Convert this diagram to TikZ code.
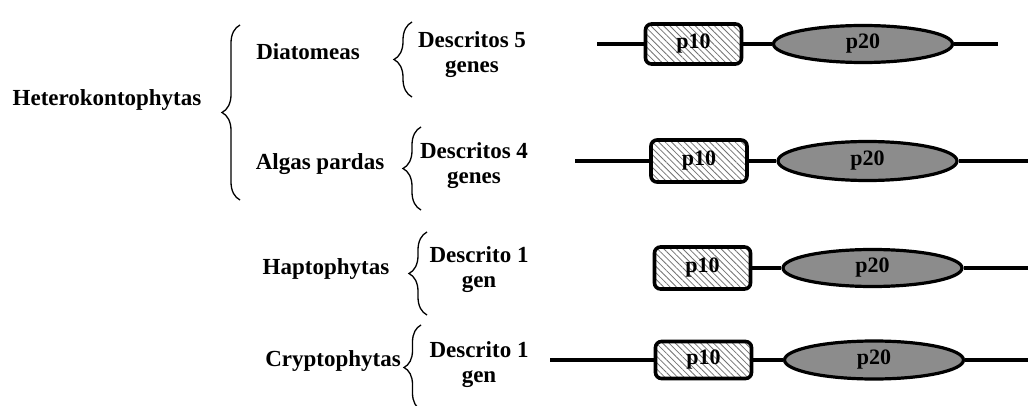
\documentclass[tikz,border=0pt]{standalone}
\usepackage{fontspec}
\setmainfont{Liberation Serif}
\usetikzlibrary{patterns.meta,decorations.pathreplacing,shapes.geometric}
\begin{document}
\begin{tikzpicture}[x=1pt,y=-1pt,
  lbl/.style={font=\fontsize{23}{25}\selectfont\bfseries, inner sep=0pt, align=center},
  genebox/.style={draw, line width=3.6pt, rounded corners=6pt, minimum width=96pt, minimum height=40pt, inner sep=0pt,
     preaction={fill=white}, pattern={Lines[angle=-45,distance=4.5pt,line width=0.8pt]}, pattern color=black!55,
     font=\fontsize{22}{23}\selectfont\bfseries},
  geneell/.style={draw, ellipse, line width=3.2pt, minimum width=179pt, minimum height=38pt, inner sep=0pt,
     fill={rgb,255:red,140;green,140;blue,140}, font=\fontsize{22}{23}\selectfont\bfseries},
  link/.style={line width=3.2pt},
  bracel/.style={decorate, decoration={brace, amplitude=#1}, line width=1.3pt},
  bracel/.default=17pt]
\useasboundingbox (0,0) rectangle (1028,406);
% labels
\node[lbl] (het) at (107,100) {Heterokontophytas};
\node[lbl] (dia) at (308,52) {Diatomeas};
\node[lbl] (alg) at (320,164) {Algas pardas};
\node[lbl] (hap) at (326,269) {Haptophytas};
\node[lbl] (cry) at (333,361) {Cryptophytas};
\node[lbl] (d5) at (472,55) {Descritos 5\\genes};
\node[lbl] (d4) at (474,166) {Descritos 4\\genes};
\node[lbl] (d1a) at (479,270) {Descrito 1\\gen};
\node[lbl] (d1b) at (479,365) {Descrito 1\\gen};
% braces
\coordinate (b0a) at (240,200); \coordinate (b0b) at (240,25);
\draw[bracel=18pt] (b0a) -- (b0b);
\coordinate (b1a) at (412,97); \coordinate (b1b) at (412,22);
\draw[bracel=18pt] (b1a) -- (b1b);
\coordinate (b2a) at (421,210); \coordinate (b2b) at (421,127);
\draw[bracel=18pt] (b2a) -- (b2b);
\coordinate (b3a) at (427,315); \coordinate (b3b) at (427,232);
\draw[bracel=18pt] (b3a) -- (b3b);
\coordinate (b4a) at (421,410); \coordinate (b4b) at (421,325);
\draw[bracel=17pt] (b4a) -- (b4b);
% row 1
\coordinate (l1) at (597,44);
\node[genebox, minimum height=40pt] (p10a) at (693.5,44) {p10};
\node[geneell, minimum height=37pt] (p20a) at (863,44) {p20};
\coordinate (r1) at (998,44);
\draw[link] (l1) -- (p10a); \draw[link] (p10a) -- (p20a); \draw[link] (p20a) -- (r1);
% row 2
\coordinate (l2) at (575,161);
\node[genebox, minimum height=42pt] (p10b) at (699,161) {p10};
\node[geneell, minimum height=39pt] (p20b) at (867.5,161) {p20};
\coordinate (r2) at (1028,161);
\draw[link] (l2) -- (p10b); \draw[link] (p10b) -- (p20b); \draw[link] (p20b) -- (r2);
% row 3
\node[genebox, minimum height=42pt] (p10c) at (702.5,268) {p10};
\node[geneell, minimum height=37pt] (p20c) at (872.5,268) {p20};
\coordinate (r3) at (1028,268);
\draw[link] (p10c) -- (p20c); \draw[link] (p20c) -- (r3);
% row 4
\coordinate (l4) at (550,360);
\node[genebox, minimum height=37pt] (p10d) at (703.5,360) {p10};
\node[geneell, minimum height=38pt] (p20d) at (874,360) {p20};
\coordinate (r4) at (1028,360);
\draw[link] (l4) -- (p10d); \draw[link] (p10d) -- (p20d); \draw[link] (p20d) -- (r4);
\end{tikzpicture}
\end{document}
